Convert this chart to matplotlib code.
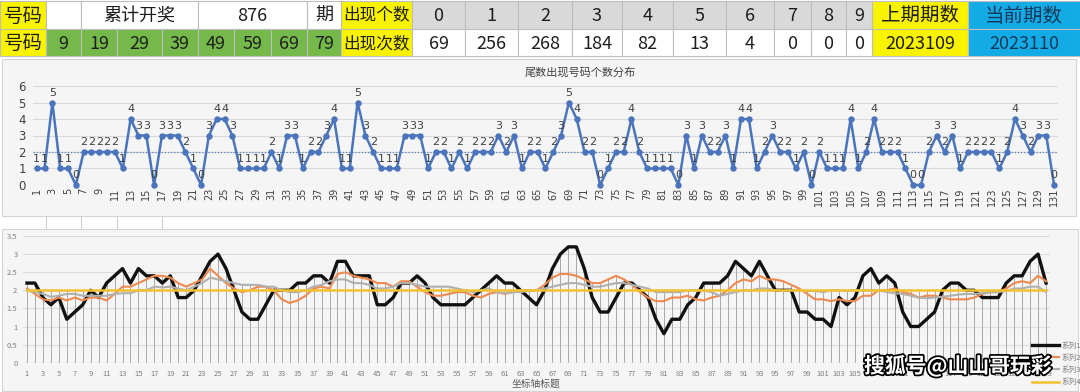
import matplotlib
matplotlib.use('Agg')
import matplotlib.pyplot as plt
import matplotlib.patheffects as pe
from matplotlib.patches import Rectangle

plt.rcParams['font.family'] = ['Noto Sans CJK SC', 'DejaVu Sans']

# ---- table data ----
TAIL_NUMBERS = [9, 19, 29, 39, 49, 59, 69, 79]
TOTAL_DRAWS = 876
DIGITS = ['0', '1', '2', '3', '4', '5', '6', '7', '8', '9']
DIGIT_COUNTS = [69, 256, 268, 184, 82, 13, 4, 0, 0, 0]
PREV_ISSUE = '2023109'
CUR_ISSUE = '2023110'

# ---- upper chart: count of tail numbers per draw ----
TOP_TITLE = '尾数出现号码个数分布'
TOP_PERIODS = list(range(1, 132))
TOP_COUNTS = [1, 1, 5, 1, 1, 0, 2, 2, 2, 2,
              2, 1, 4, 3, 3, 0, 3, 3, 3, 2,
              1, 0, 3, 4, 4, 3, 1, 1, 1, 1,
              2, 1, 3, 3, 1, 2, 2, 3, 4, 1,
              1, 5, 3, 2, 1, 1, 1, 3, 3, 3,
              1, 2, 2, 1, 2, 1, 2, 2, 2, 3,
              2, 3, 1, 2, 2, 1, 2, 3, 5, 4,
              2, 2, 0, 1, 2, 2, 4, 2, 1, 1,
              1, 1, 0, 3, 1, 3, 2, 2, 3, 1,
              4, 4, 1, 2, 3, 2, 2, 1, 2, 0,
              2, 1, 1, 1, 4, 1, 2, 4, 2, 2,
              2, 1, 0, 0, 2, 3, 2, 3, 1, 2,
              2, 2, 2, 1, 2, 4, 3, 2, 3, 3,
              0]
TOP_AVG = 2.03

# ---- lower chart: smoothed series ----
LOW_PERIODS = list(range(1, 130))
SERIES1 = [2.2, 2.2, 1.8, 1.6, 1.8, 1.2, 1.4, 1.6, 2.0, 1.8,
           2.2, 2.4, 2.6, 2.2, 2.6, 2.4, 2.4, 2.2, 2.4, 1.8,
           1.8, 2.0, 2.4, 2.8, 3.0, 2.6, 2.0, 1.4, 1.2, 1.2,
           1.6, 2.0, 2.0, 2.0, 2.2, 2.2, 2.4, 2.4, 2.2, 2.8,
           2.8, 2.4, 2.4, 2.4, 1.6, 1.6, 1.8, 2.2, 2.2, 2.4,
           2.2, 1.8, 1.6, 1.6, 1.6, 1.6, 1.8, 2.0, 2.2, 2.4,
           2.2, 2.2, 2.0, 1.8, 1.6, 2.0, 2.6, 3.0, 3.2, 3.2,
           2.6, 1.8, 1.4, 1.4, 1.8, 2.2, 2.2, 2.0, 1.8, 1.2,
           0.8, 1.2, 1.2, 1.6, 1.8, 2.2, 2.2, 2.2, 2.4, 2.8,
           2.6, 2.4, 2.8, 2.4, 2.0, 2.0, 2.0, 1.4, 1.4, 1.2,
           1.2, 1.0, 1.8, 1.6, 1.8, 2.4, 2.6, 2.2, 2.4, 2.2,
           1.4, 1.0, 1.0, 1.2, 1.4, 2.0, 2.2, 2.2, 2.0, 2.0,
           1.8, 1.8, 1.8, 2.2, 2.4, 2.4, 2.8, 3.0, 2.2]
SERIES2 = [2.05, 1.9, 1.75, 1.72, 1.8, 1.72, 1.8, 1.72, 1.8, 1.8,
           1.72, 1.9, 2.1, 2.1, 2.2, 2.3, 2.4, 2.4, 2.35, 2.2,
           2.1, 2.2, 2.3, 2.6, 2.4, 2.2, 2.05, 1.95, 2.0, 2.1,
           2.1, 2.0, 1.75, 1.65, 1.72, 1.85, 2.05, 2.1, 2.05, 2.45,
           2.5, 2.4, 2.35, 2.3, 2.2, 2.2, 2.1, 2.25, 2.25, 2.1,
           1.95, 1.85, 1.85, 1.9, 1.95, 1.95, 1.85, 1.8, 1.9, 1.95,
           1.9, 1.95, 2.0, 2.0, 2.0, 2.15, 2.35, 2.45, 2.45, 2.4,
           2.3, 2.2, 2.2, 2.3, 2.4, 2.3, 2.15, 1.95, 1.8, 1.7,
           1.7, 1.8, 1.8, 1.85, 1.75, 1.72, 1.8, 1.85, 2.0, 2.2,
           2.3, 2.25, 2.4, 2.3, 2.3, 2.25, 2.15, 2.05, 1.9, 1.75,
           1.75, 1.7, 1.75, 1.7, 1.7, 1.85, 1.85, 2.0, 2.0, 2.05,
           1.95, 1.9, 1.8, 1.85, 1.85, 1.8, 1.75, 1.75, 1.75, 1.8,
           1.9, 1.95, 1.95, 2.05, 2.2, 2.25, 2.2, 2.4, 2.25]
SERIES3 = [2.0, 1.95, 1.9, 1.82, 1.85, 1.9, 1.9, 1.85, 1.85, 1.85,
           1.85, 1.9, 1.92, 1.92, 2.0, 2.0, 2.1, 2.08, 2.1, 2.05,
           2.0, 2.1, 2.2, 2.35, 2.3, 2.25, 2.2, 2.15, 2.15, 2.15,
           2.1, 2.1, 2.0, 1.95, 1.95, 2.0, 2.1, 2.15, 2.25, 2.3,
           2.3, 2.2, 2.2, 2.15, 2.05, 2.05, 2.1, 2.2, 2.2, 2.15,
           2.1, 2.1, 2.1, 2.1, 2.05, 2.0, 1.95, 2.0, 2.05, 1.95,
           1.92, 1.95, 1.95, 1.98, 2.0, 2.05, 2.1, 2.15, 2.2, 2.2,
           2.15, 2.1, 2.1, 2.15, 2.2, 2.2, 2.15, 2.1, 2.05, 1.95,
           1.95, 1.95, 1.95, 2.0, 2.0, 2.0, 1.95, 1.85, 1.9, 1.95,
           2.0, 2.0, 2.05, 2.05, 2.0, 1.98, 2.0, 2.0, 1.98, 1.98,
           1.95, 2.0, 2.0, 1.98, 2.0, 2.0, 2.0, 2.0, 1.95, 1.92,
           1.9, 1.85, 1.8, 1.78, 1.8, 1.82, 1.85, 1.88, 1.9, 1.9,
           1.92, 1.95, 1.95, 1.98, 2.05, 2.05, 2.1, 2.1, 1.95]
SERIES4 = [2.0] * 129
SERIES_NAMES = ['系列1', '系列2', '系列3', '系列4']
LOW_XTITLE = '坐标轴标题'
WATERMARK = '搜狐号@山山哥玩彩'

W, H = 1080, 392
fig = plt.figure(figsize=(W / 100, H / 100), dpi=100)


def px_axes(left, top, right, bottom):
    return fig.add_axes([left / W, 1 - bottom / H, (right - left) / W, (bottom - top) / H])


bg = px_axes(0, 0, W, H)
bg.set_xlim(0, W)
bg.set_ylim(H, 0)
bg.axis('off')

YELLOW = '#f9f300'
GREEN = '#74b94a'
GRAY = '#d9d9d9'
BLUE = '#13abe6'


def cell(x0, x1, y0, y1, color, text=None, size=13, tcolor='#1e1e1e'):
    bg.add_patch(Rectangle((x0, y0), x1 - x0, y1 - y0, facecolor=color,
                           edgecolor='#bdbdbd', lw=0.8))
    if text is not None:
        bg.text((x0 + x1) / 2, (y0 + y1) / 2 + 1, text, ha='center', va='center',
                fontsize=size, color=tcolor)


# table
r1, r2, r3 = 1, 29, 56
green_edges = [46, 81, 117, 162, 198, 234, 271, 307, 341]
digit_edges = [412, 465, 518, 572, 622, 673, 726, 774, 811, 846, 872]

cell(0, 46, r1, r2, YELLOW, '号码', 14)
cell(0, 46, r2, r3, YELLOW, '号码', 14)
cell(46, 81, r1, r2, 'white')
cell(81, 198, r1, r2, 'white', '累计开奖', 13)
cell(198, 307, r1, r2, 'white', str(TOTAL_DRAWS), 13)
cell(307, 341, r1, r2, 'white', '期', 13)
for i, n in enumerate(TAIL_NUMBERS):
    cell(green_edges[i], green_edges[i + 1], r2, r3, GREEN, str(n), 13)
cell(341, 412, r1, r2, YELLOW, '出现个数', 12)
cell(341, 412, r2, r3, YELLOW, '出现次数', 12)
for i, (d, c) in enumerate(zip(DIGITS, DIGIT_COUNTS)):
    cell(digit_edges[i], digit_edges[i + 1], r1, r2, GRAY, d, 13)
    cell(digit_edges[i], digit_edges[i + 1], r2, r3, 'white', str(c), 13)
cell(872, 968, r1, r2, YELLOW, '上期期数', 14)
cell(872, 968, r2, r3, YELLOW, PREV_ISSUE, 13)
cell(968, 1080, r1, r2, BLUE, '当前期数', 14, '#173a5a')
cell(968, 1080, r2, r3, BLUE, CUR_ISSUE, 13, '#173a5a')

# chart areas and the sheet band between them
bg.add_patch(Rectangle((2, 59), 1074, 157, facecolor='#f5f5f5', edgecolor='#d4d4d4', lw=0.8))
for xe in green_edges[:4]:
    bg.plot([xe, xe], [216, 229], color='#d0d0d0', lw=0.8)
bg.add_patch(Rectangle((2, 229), 1076, 162, facecolor='#f5f5f5', edgecolor='#d4d4d4', lw=0.8))

# ---- upper chart ----
ax = px_axes(32.8, 86, 1058, 185)
ax.set_facecolor('none')
ax.set_xlim(0.5, 131.5)
ax.set_ylim(0, 6)
ax.set_yticks(range(0, 7))
ax.set_xticks(TOP_PERIODS[::2])
ax.set_xticklabels([str(p) for p in TOP_PERIODS[::2]], rotation=90, fontsize=7, color='#404040',
                   family='DejaVu Sans')
ax.tick_params(axis='y', length=0, pad=5, labelsize=8.5, labelcolor='#404040')
ax.tick_params(axis='x', length=0, pad=2)
for lab in ax.get_yticklabels():
    lab.set_family('DejaVu Sans')
ax.grid(axis='y', color='#d9d9d9', lw=0.8)
ax.set_axisbelow(True)
for s in ax.spines.values():
    s.set_visible(False)
ax.axhline(TOP_AVG, color='#5b7fc0', lw=0.9, ls=(0, (1, 1.5)))
ax.plot(TOP_PERIODS, TOP_COUNTS, color='#4a74bb', lw=1.8, marker='o', ms=3.6, clip_on=False)
for p, v in zip(TOP_PERIODS, TOP_COUNTS):
    ax.annotate(str(v), (p, v), xytext=(0, 3.5), textcoords='offset points',
                ha='center', va='bottom', fontsize=8, color='#404040', family='DejaVu Sans',
                annotation_clip=False)
bg.text(580, 72, TOP_TITLE, ha='center', va='center', fontsize=8, color='#404040')

# ---- lower chart ----
lx = px_axes(23, 236, 1050, 362.7)
lx.set_facecolor('none')
lx.set_xlim(0.5, 129.5)
lx.set_ylim(0, 3.5)
lx.set_yticks([0, 0.5, 1, 1.5, 2, 2.5, 3, 3.5])
lx.set_yticklabels(['0', '0.5', '1', '1.5', '2', '2.5', '3', '3.5'])
lx.set_xticks(LOW_PERIODS[::2])
lx.set_xticklabels([str(p) for p in LOW_PERIODS[::2]])
lx.tick_params(axis='both', length=0, labelsize=5.5, labelcolor='#808080')
lx.tick_params(axis='x', pad=5)
lx.tick_params(axis='y', pad=4)
lx.grid(axis='y', color='#dcdcdc', lw=0.8)
lx.set_axisbelow(True)
for s in lx.spines.values():
    s.set_visible(False)

tops = [max(a, b, c, d) for a, b, c, d in zip(SERIES1, SERIES2, SERIES3, SERIES4)]
lx.vlines(LOW_PERIODS, 0, tops, color='#a8a8a8', lw=0.7)
h1, = lx.plot(LOW_PERIODS, SERIES1, color='#111111', lw=2.4)
h2, = lx.plot(LOW_PERIODS, SERIES2, color='#ee8a4f', lw=1.5)
h3, = lx.plot(LOW_PERIODS, SERIES3, color='#b0b0b0', lw=1.5)
h4, = lx.plot(LOW_PERIODS, SERIES4, color='#f2c12e', lw=1.8)
lx.set_xlabel(LOW_XTITLE, fontsize=7, color='#595959', labelpad=1)

lx.legend([h1, h2, h3, h4], SERIES_NAMES, loc='lower left',
          bbox_to_anchor=(1028 / W, 1 - 390 / H), bbox_transform=fig.transFigure,
          frameon=False, fontsize=5.5, labelcolor='#808080', handlelength=3.5,
          handletextpad=0.4, labelspacing=0.55, borderpad=0)

# watermark over everything
fig.text(958 / W, 1 - 366 / H, WATERMARK, ha='center', va='center', fontsize=15,
         fontweight='bold', color='white', zorder=10,
         path_effects=[pe.withStroke(linewidth=2.5, foreground='black')])

fig.savefig('out.png', dpi=100, facecolor='white')
